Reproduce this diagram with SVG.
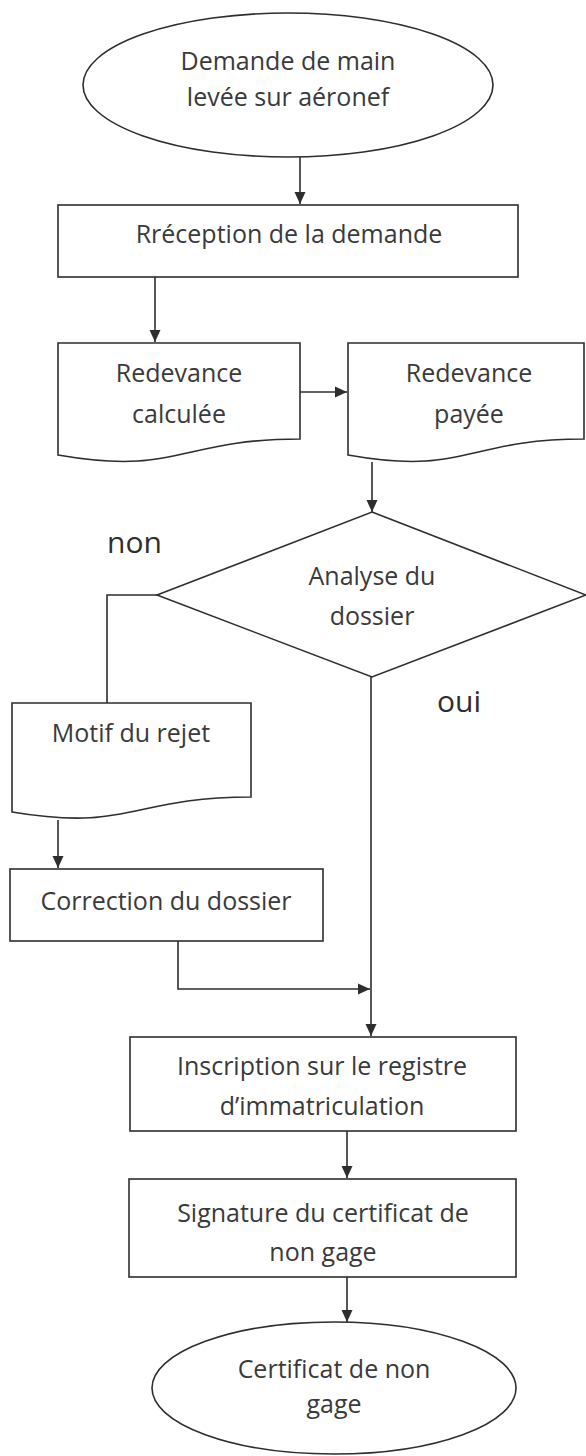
<svg xmlns="http://www.w3.org/2000/svg" width="586" height="1456" viewBox="0 0 586 1456">
<style>
.shape{fill:#ffffff;stroke:#2e2e2e;stroke-width:1.6}
.line{fill:none;stroke:#2e2e2e;stroke-width:1.6}
.t{font-family:"Open Sans","Liberation Sans",sans-serif;font-size:25px;fill:#3a3a3a;text-anchor:middle}
.lbl{font-family:"Open Sans","Liberation Sans",sans-serif;font-size:30px;fill:#2e2e2e}
</style>
<defs>
<marker id="ah" markerUnits="userSpaceOnUse" markerWidth="12" markerHeight="12" viewBox="0 0 12 12" refX="12" refY="6" orient="auto">
<path d="M0,0.5 L12,6 L0,11.5 Z" fill="#2e2e2e"/>
</marker>
</defs>
<rect width="586" height="1456" fill="#ffffff"/>

<g id="connectors">
<line class="line" x1="300" y1="157" x2="300" y2="204" marker-end="url(#ah)"/>
<line class="line" x1="155" y1="277" x2="155" y2="342" marker-end="url(#ah)"/>
<line class="line" x1="300" y1="392" x2="347" y2="392" marker-end="url(#ah)"/>
<line class="line" x1="372" y1="462" x2="372" y2="512" marker-end="url(#ah)"/>
<polyline class="line" points="157,595 107,595 107,703"/>
<line class="line" x1="371" y1="677" x2="371" y2="1036" marker-end="url(#ah)"/>
<line class="line" x1="58" y1="820" x2="58" y2="868" marker-end="url(#ah)"/>
<polyline class="line" points="178,941 178,989 370,989" marker-end="url(#ah)"/>
<line class="line" x1="347" y1="1131" x2="347" y2="1178" marker-end="url(#ah)"/>
<line class="line" x1="347" y1="1277" x2="347" y2="1322" marker-end="url(#ah)"/>
</g>

<g id="n1">
<ellipse class="shape" cx="288" cy="85" rx="205" ry="72"/>
<text class="t" x="288" y="70">Demande de main</text>
<text class="t" x="288" y="106">levée sur aéronef</text>
</g>

<g id="n2">
<rect class="shape" x="58" y="205" width="460" height="72"/>
<text class="t" x="289" y="243">Rréception de la demande</text>
</g>

<g id="n3">
<path class="shape" d="M58,343 H300 V439 C179,439 179,476 58,455 Z"/>
<text class="t" x="179" y="382">Redevance</text>
<text class="t" x="179" y="423">calculée</text>
</g>

<g id="n4">
<path class="shape" d="M348,343 H584 V439 C466,439 466,476 348,455 Z"/>
<text class="t" x="469" y="382">Redevance</text>
<text class="t" x="469" y="423">payée</text>
</g>

<g id="n5">
<polygon class="shape" points="372,512 586,595 372,677 157,595"/>
<text class="t" x="372" y="585">Analyse du</text>
<text class="t" x="372" y="625">dossier</text>
</g>

<g id="labels">
<text class="lbl" x="107" y="553">non</text>
<text class="lbl" x="437" y="712">oui</text>
</g>

<g id="n6">
<path class="shape" d="M12,703 H251 V797 C131,797 131,832 12,812 Z"/>
<text class="t" x="131" y="742">Motif du rejet</text>
</g>

<g id="n7">
<rect class="shape" x="10" y="869" width="313" height="72"/>
<text class="t" x="166" y="910">Correction du dossier</text>
</g>

<g id="n8">
<rect class="shape" x="130" y="1037" width="386" height="94"/>
<text class="t" x="322" y="1075">Inscription sur le registre</text>
<text class="t" x="322" y="1115">d’immatriculation</text>
</g>

<g id="n9">
<rect class="shape" x="129" y="1179" width="387" height="98"/>
<text class="t" x="323" y="1222">Signature du certificat de</text>
<text class="t" x="323" y="1261">non gage</text>
</g>

<g id="n10">
<ellipse class="shape" cx="334" cy="1388" rx="182" ry="66"/>
<text class="t" x="334" y="1378">Certificat de non</text>
<text class="t" x="334" y="1413">gage</text>
</g>
</svg>
